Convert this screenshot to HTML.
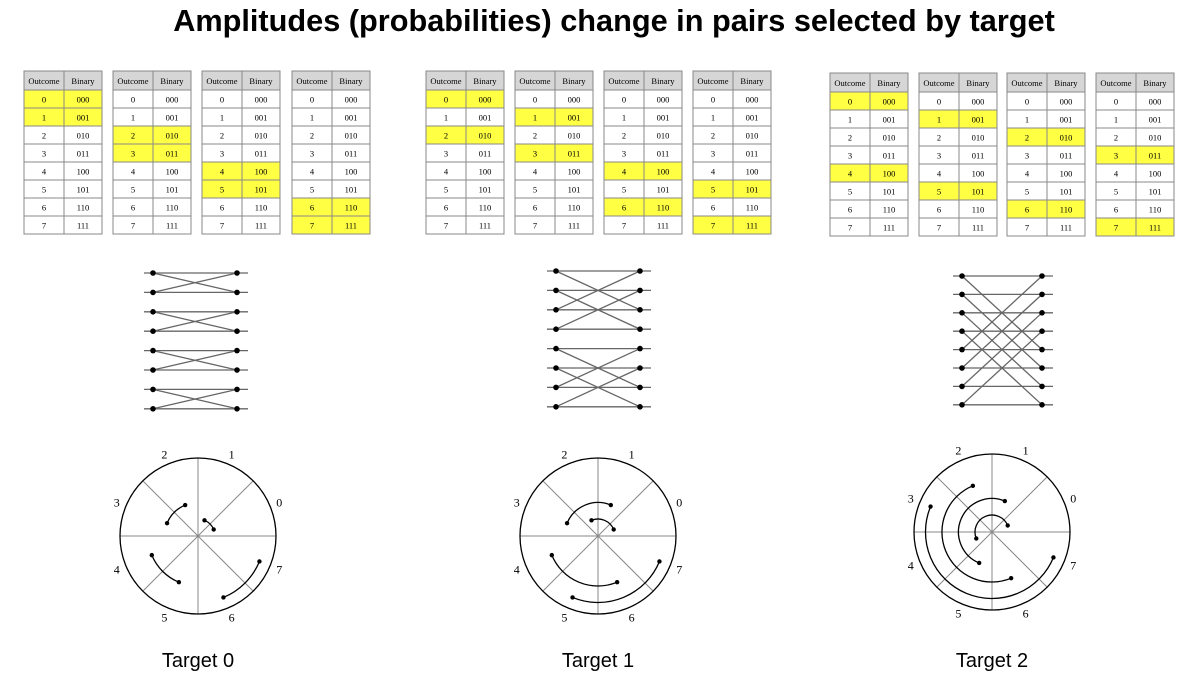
<!DOCTYPE html>
<html><head><meta charset="utf-8">
<style>
body{margin:0;width:1200px;height:677px;background:#fff;overflow:hidden;font-family:"Liberation Sans",sans-serif}
#title{position:absolute;left:14px;width:1200px;top:3px;text-align:center;font-weight:bold;font-size:30.7px;color:#000}
svg{position:absolute;left:0;top:0}
</style></head><body>
<div id="title">Amplitudes (probabilities) change in pairs selected by target</div>
<svg id="svg" width="1200" height="677"></svg>
<script>
const targets=[0,1,2];
const pairsT0=[[0,1],[2,3],[4,5],[6,7]];
const pairsT1=[[0,2],[1,3],[4,6],[5,7]];
const pairsT2=[[0,4],[1,5],[2,6],[3,7]];
const allPairs=[pairsT0,pairsT1,pairsT2];
const outcomes=[0,1,2,3,4,5,6,7];
const binaries=["000","001","010","011","100","101","110","111"];
const layout=[
 {tables:[24,113,202,292],ty:71,bl:153,br:237,by:273,bs:19.4,cx:198,cy:536},
 {tables:[426,515,604,693],ty:71,bl:556,br:640,by:271,bs:19.4,cx:598,cy:536},
 {tables:[830,919,1007,1096],ty:73,bl:962,br:1042,by:276,bs:18.4,cx:992,cy:532}
];
const NS="http://www.w3.org/2000/svg";
const svg=document.getElementById('svg');
function mk(tag,attrs,parent){const e=document.createElementNS(NS,tag);for(const k in attrs)e.setAttribute(k,attrs[k]);(parent||svg).appendChild(e);return e;}
targets.forEach((t,ti)=>{
 const L=layout[ti],pairs=allPairs[ti];
 const g=mk('g',{});
 
 
 pairs.forEach((p,pi)=>{
  const x=L.tables[pi],y=L.ty,w1=40,w2=38,hh=19,rh=18;
  const tg=mk('g',{},g);
  
  
  mk('rect',{x:x,y:y,width:w1+w2,height:hh,fill:'#d6d6d6',stroke:'#888','stroke-width':1},tg);
  mk('line',{x1:x+w1,y1:y,x2:x+w1,y2:y+hh,stroke:'#888'},tg);
  const h1=mk('text',{x:x+w1/2,y:y+13,'text-anchor':'middle','font-size':8.5,'font-family':'Liberation Serif,serif'},tg);h1.textContent='Outcome';
  const h2=mk('text',{x:x+w1+w2/2,y:y+13,'text-anchor':'middle','font-size':8.5,'font-family':'Liberation Serif,serif'},tg);h2.textContent='Binary';
  outcomes.forEach((o,r)=>{
   const ry=y+hh+r*rh,hl=p.includes(o);
   mk('rect',{x:x,y:ry,width:w1,height:rh,fill:hl?'#ffff44':'#fff',stroke:'#888'},tg);
   mk('rect',{x:x+w1,y:ry,width:w2,height:rh,fill:hl?'#ffff44':'#fff',stroke:'#888'},tg);
   const a=mk('text',{x:x+w1/2,y:ry+12.5,'text-anchor':'middle','font-size':8.5,'font-family':'Liberation Serif,serif'},tg);a.textContent=o;
   const b=mk('text',{x:x+w1+w2/2,y:ry+12.5,'text-anchor':'middle','font-size':8.5,'font-family':'Liberation Serif,serif'},tg);b.textContent=binaries[r];
  });
 });
 const bg=mk('g',{},g);
 
 
 const partner={};pairs.forEach(p=>{partner[p[0]]=p[1];partner[p[1]]=p[0];});
 const yy=i=>L.by+i*L.bs;
 outcomes.forEach(i=>{
  mk('line',{x1:L.bl-9,y1:yy(i),x2:L.br+11,y2:yy(i),stroke:'#666','stroke-width':1.3},bg);
  mk('line',{x1:L.bl,y1:yy(i),x2:L.br,y2:yy(partner[i]),stroke:'#666','stroke-width':1.3},bg);
 });
 outcomes.forEach(i=>{
  mk('circle',{cx:L.bl,cy:yy(i),r:2.8,fill:'#000'},bg);
  mk('circle',{cx:L.br,cy:yy(i),r:2.8,fill:'#000'},bg);
 });
 const cg=mk('g',{},g);
 
 
 const R=78,cx=L.cx,cy=L.cy;
 for(let k=0;k<4;k++){const a=k*Math.PI/4;mk('line',{x1:cx-R*Math.cos(a),y1:cy+R*Math.sin(a),x2:cx+R*Math.cos(a),y2:cy-R*Math.sin(a),stroke:'#888','stroke-width':1},cg);}
 mk('circle',{cx:cx,cy:cy,r:R,fill:'none',stroke:'#000','stroke-width':1.3},cg);
 outcomes.forEach(o=>{const a=(o*45+22.5)*Math.PI/180;
  const tx=mk('text',{x:cx+88*Math.cos(a),y:cy-88*Math.sin(a)+4,'text-anchor':'middle','font-size':12,'font-family':'Liberation Serif,serif'},cg);tx.textContent=o;});
 pairs.forEach((p,pi)=>{
  const r=17+16.5*pi,a1=(p[0]*45+22.5)*Math.PI/180,a2=(p[1]*45+22.5)*Math.PI/180;
  const x1=cx+r*Math.cos(a1),y1=cy-r*Math.sin(a1),x2=cx+r*Math.cos(a2),y2=cy-r*Math.sin(a2);
  const large=(a2-a1)>Math.PI?1:0;
  const arc=mk('path',{d:`M${x1},${y1} A${r},${r} 0 ${large} 0 ${x2},${y2}`,fill:'none',stroke:'#000','stroke-width':1.3},cg);
  
  
  mk('circle',{cx:x1,cy:y1,r:2.2,fill:'#000'},cg);
  mk('circle',{cx:x2,cy:y2,r:2.2,fill:'#000'},cg);
 });
 const lab=mk('text',{x:cx,y:667,'text-anchor':'middle','font-size':20,'font-family':'Liberation Sans,sans-serif'},g);
 lab.textContent='Target '+t;
 
 
});
</script>
</body></html>
